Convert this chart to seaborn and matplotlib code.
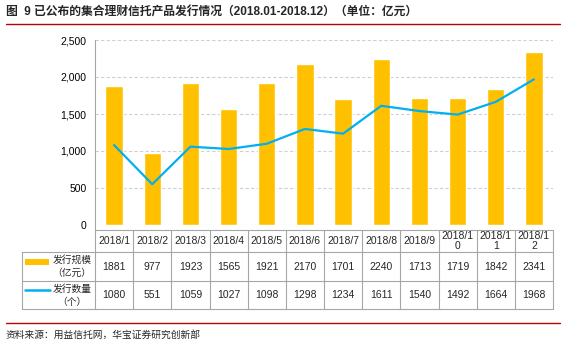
import numpy as np
import pandas as pd
import matplotlib
matplotlib.use("Agg")
import matplotlib.pyplot as plt
from matplotlib.lines import Line2D
from matplotlib.patches import Rectangle
from matplotlib.ticker import FuncFormatter
import seaborn as sns

months = ["2018/1", "2018/2", "2018/3", "2018/4", "2018/5", "2018/6",
          "2018/7", "2018/8", "2018/9", "2018/10", "2018/11", "2018/12"]
scale = [1881, 977, 1923, 1565, 1921, 2170, 1701, 2240, 1713, 1719, 1842, 2341]
count = [1080, 551, 1059, 1027, 1098, 1298, 1234, 1611, 1540, 1492, 1664, 1968]
yticks = [0, 500, 1000, 1500, 2000, 2500]
series_names = [("发行规模", "（亿元）"), ("发行数量", "（个）")]
title = "图  9 已公布的集合理财信托产品发行情况（2018.01-2018.12）（单位：亿元）"
source = "资料来源：用益信托网，华宝证券研究创新部"

sns.set_style("white")
plt.rcParams['font.family'] = ['Liberation Sans', 'Noto Sans CJK SC', 'DejaVu Sans']

BAR = "#FFC000"
LINE = "#00B0F0"
GRID = "#D0D0D0"
TBL = "#A6A6A6"

W, H = 566, 346
fig = plt.figure(figsize=(W / 100, H / 100), dpi=100)

def fx(px):
    return px / W

def fy(py):
    return 1 - py / H

ax_l, ax_r, ax_t, ax_b = 95, 553, 40, 225
ax = fig.add_axes([fx(ax_l), fy(ax_b), fx(ax_r - ax_l), fy(ax_t) - fy(ax_b)])

df = pd.DataFrame({"month": months, "scale": scale, "count": count,
                   "pos": np.arange(len(months))})

sns.barplot(data=df, x="pos", y="scale", color=BAR, width=0.45,
            saturation=1, ax=ax, native_scale=True)
sns.lineplot(data=df, x="pos", y="count", color=LINE, linewidth=1.6, ax=ax)

ax.set_xlim(-0.5, len(months) - 0.5)
ax.set_ylim(0, 2500)
ax.set_yticks(yticks)
ax.yaxis.set_major_formatter(FuncFormatter(lambda v, p: f"{int(v):,}"))
ax.tick_params(axis="y", length=0, pad=6, labelsize=7.5, colors="black")
ax.set_xticks([])
ax.set_xlabel("")
ax.set_ylabel("")
ax.grid(axis="y", color=GRID, linestyle=(0, (3, 2)), linewidth=0.8)
ax.set_axisbelow(True)
for s in ["top", "right", "bottom"]:
    ax.spines[s].set_visible(False)
ax.spines["left"].set_color(TBL)
ax.spines["left"].set_linewidth(0.8)

# table
row_hdr_top, row1_top, row2_top, row_bot = 230, 252, 281, 309
tbl_left = 22
ncol = len(months)
colw = (ax_r - ax_l) / ncol

def hline(x0, x1, y):
    fig.add_artist(Line2D([fx(x0), fx(x1)], [fy(y), fy(y)], color=TBL, lw=0.8))

def vline(x, y0, y1):
    fig.add_artist(Line2D([fx(x), fx(x)], [fy(y0), fy(y1)], color=TBL, lw=0.8))

hline(ax_l, ax_r, row_hdr_top)
hline(tbl_left, ax_r, row1_top)
hline(tbl_left, ax_r, row2_top)
hline(tbl_left, ax_r, row_bot)
vline(tbl_left, row1_top, row_bot)
vline(ax_l, ax_b, row_bot)
for i in range(1, ncol + 1):
    vline(ax_l + i * colw, row_hdr_top, row_bot)

for i, m in enumerate(months):
    cx = ax_l + (i + 0.5) * colw
    lab = m if len(m) <= 6 else m[:6] + "\n" + m[6:]
    fig.text(fx(cx), fy((row_hdr_top + row1_top) / 2), lab, ha="center",
             va="center", fontsize=7.5, linespacing=1.0)
    fig.text(fx(cx), fy((row1_top + row2_top) / 2), str(scale[i]), ha="center",
             va="center", fontsize=7.5)
    fig.text(fx(cx), fy((row2_top + row_bot) / 2), str(count[i]), ha="center",
             va="center", fontsize=7.5)

# legend keys in table
fig.add_artist(Rectangle((fx(25), fy(265)), fx(24), fy(259) - fy(265),
                         color=BAR, lw=0))
fig.add_artist(Line2D([fx(25), fx(50)], [fy(290), fy(290)], color=LINE, lw=1.8))
for (n1, n2), (ya, yb) in zip(series_names, [(260, 273), (289, 302)]):
    fig.text(fx(72), fy(ya), n1, ha="center", va="center", fontsize=7)
    fig.text(fx(72), fy(yb), n2, ha="center", va="center", fontsize=7)

# title and source
fig.text(fx(6), fy(13), title, ha="left", va="center", fontsize=8.5,
         fontweight="bold")
fig.add_artist(Line2D([fx(6), fx(560)], [fy(24), fy(24)], color="#C00000", lw=1.0))
fig.add_artist(Line2D([fx(6), fx(560)], [fy(323), fy(323)], color="#C00000", lw=1.0))
fig.text(fx(6), fy(335), source, ha="left", va="center", fontsize=7)

fig.savefig("out.png", dpi=100)
